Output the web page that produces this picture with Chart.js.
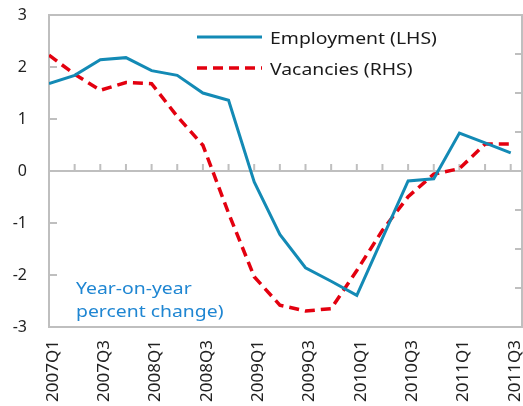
<!DOCTYPE html>
<html>
<head>
<meta charset="utf-8">
<script src="https://cdn.jsdelivr.net/npm/chart.js@4"></script>
<style>
  body { margin: 0; background: #fff; }
  canvas { display: block; }
</style>
</head>
<body>
<canvas id="chart" width="523" height="406"></canvas>
<script>
// Data
const quarters = ['2007Q1', '2007Q2', '2007Q3', '2007Q4', '2008Q1', '2008Q2', '2008Q3', '2008Q4',
    '2009Q1', '2009Q2', '2009Q3', '2009Q4', '2010Q1', '2010Q2', '2010Q3', '2010Q4',
    '2011Q1', '2011Q2', '2011Q3'];
const employment = [1.68, 1.84, 2.14, 2.18, 1.93, 1.84, 1.50, 1.36, -0.21, -1.22, -1.86, -2.12,
    -2.39, -1.29, -0.19, -0.15, 0.73, 0.54, 0.35];
const vacancies = [29.7, 24.8, 20.7, 22.7, 22.4, 14.0, 6.6, -10.8, -27.1, -34.4, -35.9, -35.3,
    -25.5, -15.2, -6.6, -0.8, 0.6, 6.9, 6.9];
const leftTicks = [-3, -2, -1, 0, 1, 2, 3];
const rightTicks = [-40, -30, -20, -10, 0, 10, 20, 30, 40];
const noteLines = ['Year-on-year', 'percent change)'];

const FONT = '"Noto Sans", sans-serif';
const AXIS_GREY = '#BFBFBF';
const STRETCH = 1.14; // text in the original is a little wider than Noto Sans

const toPoints = arr => arr.map((v, i) => ({ x: i, y: v }));

function wideText(ctx, text, x, y) {
    ctx.save();
    ctx.translate(x, y);
    ctx.scale(STRETCH, 1);
    ctx.fillText(text, 0, 0);
    ctx.restore();
}

// no extra padding from the scales, the chart area is set by afterFit
function noPad(s) {
    s.paddingTop = 0;
    s.paddingBottom = 0;
    s.paddingLeft = 0;
    s.paddingRight = 0;
}

// Frame, zero line, inner tick marks, legend and note
const decor = {
    id: 'decor',
    beforeDatasetsDraw(chart) {
        const { ctx, chartArea: a, scales } = chart;
        const y0 = scales.y.getPixelForValue(0);
        ctx.save();
        ctx.strokeStyle = AXIS_GREY;
        ctx.lineWidth = 2;
        ctx.strokeRect(a.left, a.top, a.right - a.left, a.bottom - a.top);
        ctx.beginPath();
        ctx.moveTo(a.left, y0);
        ctx.lineTo(a.right, y0);
        quarters.forEach((q, i) => {
            if (i === 0) return;
            const x = scales.x.getPixelForValue(i);
            ctx.moveTo(x, y0 - 7);
            ctx.lineTo(x, y0);
        });
        leftTicks.forEach(v => {
            const y = scales.y.getPixelForValue(v);
            ctx.moveTo(a.left, y);
            ctx.lineTo(a.left + 8, y);
        });
        rightTicks.forEach(v => {
            const y = scales.y2.getPixelForValue(v);
            ctx.moveTo(a.right - 7, y);
            ctx.lineTo(a.right, y);
        });
        ctx.stroke();
        ctx.restore();
    },
    afterDatasetsDraw(chart) {
        const { ctx } = chart;
        ctx.save();
        ctx.font = '17px ' + FONT;
        ctx.textBaseline = 'middle';
        // legend
        chart.data.datasets.forEach((ds, i) => {
            const y = 37 + i * 31;
            ctx.strokeStyle = ds.borderColor;
            ctx.lineWidth = ds.borderWidth;
            ctx.setLineDash(ds.borderDash || []);
            ctx.beginPath();
            ctx.moveTo(197, y);
            ctx.lineTo(262, y);
            ctx.stroke();
            ctx.setLineDash([]);
            ctx.fillStyle = '#1a1a1a';
            wideText(ctx, ds.label, 270, y + 2);
        });
        // note
        ctx.fillStyle = '#1F86D2';
        noteLines.forEach((t, i) => wideText(ctx, t, 76, 289 + i * 23));
        ctx.restore();
    }
};

new Chart(document.getElementById('chart'), {
    type: 'line',
    data: {
        datasets: [
            {
                label: 'Employment (LHS)',
                data: toPoints(employment),
                borderColor: '#138AB5',
                borderWidth: 3,
                pointRadius: 0,
                tension: 0,
                yAxisID: 'y'
            },
            {
                label: 'Vacancies (RHS)',
                data: toPoints(vacancies),
                borderColor: '#E3000F',
                borderWidth: 3.5,
                borderDash: [10, 6],
                pointRadius: 0,
                tension: 0,
                yAxisID: 'y2'
            }
        ]
    },
    options: {
        responsive: false,
        animation: false,
        layout: { padding: { top: 15, right: 0, left: 0, bottom: 0 } },
        plugins: { legend: { display: false }, tooltip: { enabled: false } },
        scales: {
            x: {
                type: 'linear',
                min: 0,
                max: 18.44,
                grid: { display: false, drawTicks: false },
                border: { display: false },
                afterBuildTicks: s => { s.ticks = quarters.map((q, i) => ({ value: i })); },
                afterFit: s => { s.height = 79; noPad(s); },
                ticks: {
                    autoSkip: false,
                    minRotation: 90,
                    maxRotation: 90,
                    padding: 13,
                    labelOffset: 4,
                    color: '#222',
                    font: { family: FONT, size: 17 },
                    callback: v => (v % 2 === 0 ? quarters[v] : '')
                }
            },
            y: {
                position: 'left',
                min: -3,
                max: 3,
                grid: { display: false, drawTicks: false },
                border: { display: false },
                afterBuildTicks: s => { s.ticks = leftTicks.map(v => ({ value: v })); },
                afterFit: s => { s.width = 49; noPad(s); },
                ticks: {
                    padding: 22,
                    color: '#222',
                    font: { family: FONT, size: 16 }
                }
            },
            y2: {
                position: 'right',
                min: -40,
                max: 40,
                grid: { display: false, drawTicks: false },
                border: { display: false },
                afterFit: s => { s.width = 1; noPad(s); },
                ticks: { display: false }
            }
        }
    },
    plugins: [decor]
});
</script>
</body>
</html>
